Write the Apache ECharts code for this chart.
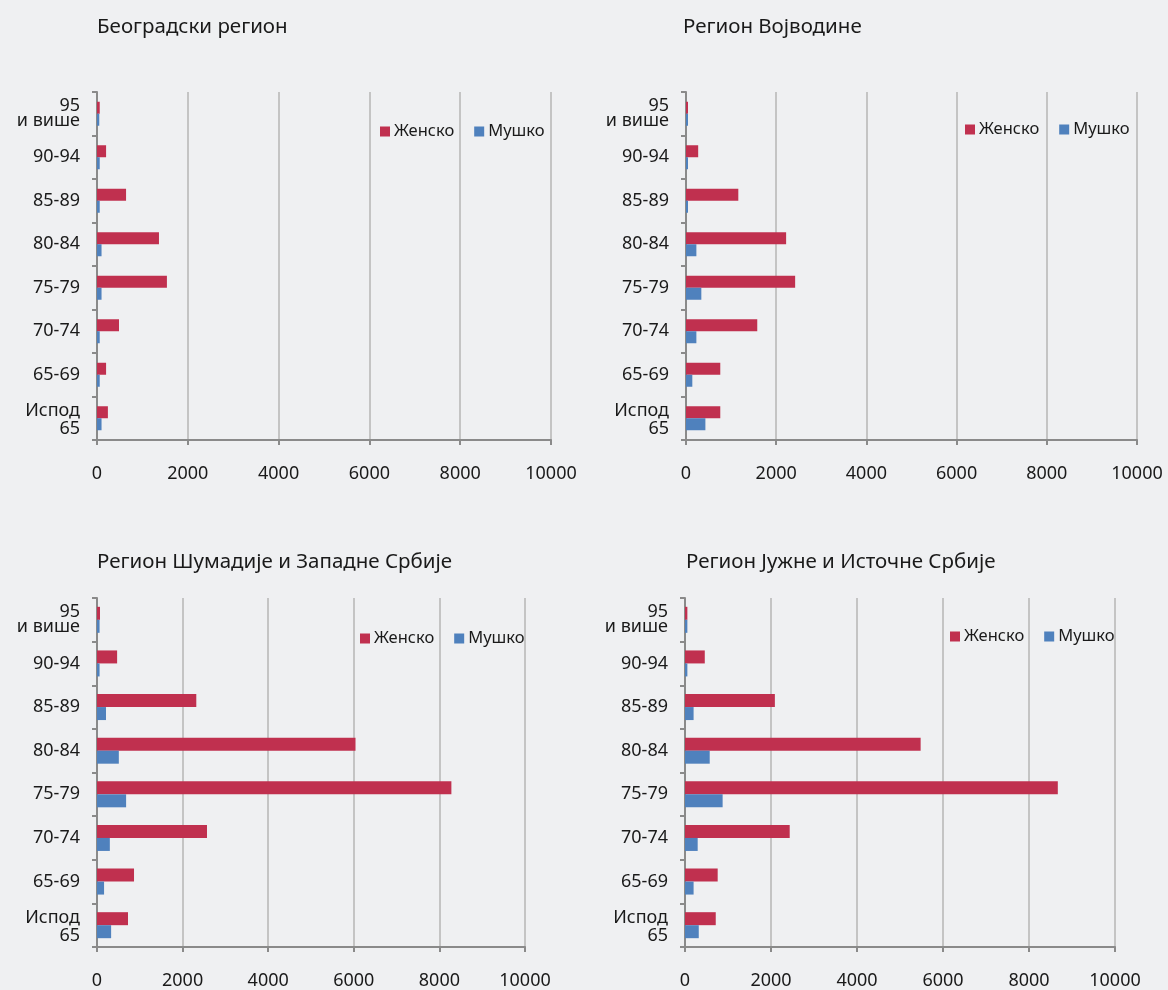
<!DOCTYPE html>
<html><head><meta charset="utf-8">
<script src="https://cdn.jsdelivr.net/npm/echarts@6/dist/echarts.min.js"></script>
<style>html,body{margin:0;padding:0;background:#EFF0F2;}#c{width:1168px;height:990px;}</style>
</head><body><div id="c"></div>
<script>
const categories = ['Испод\n65','65-69','70-74','75-79','80-84','85-89','90-94','95\nи више'];
const titles = ['Београдски регион','Регион Војводине','Регион Шумадије и Западне Србије','Регион Јужне и Источне Србије'];
const seriesNames = ['Женско','Мушко'];
const xTicks = [0,2000,4000,6000,8000,10000];

const belgradeF = [240,200,485,1540,1365,640,200,60];
const belgradeM = [100,60,60,100,100,60,60,50];
const vojvodinaF = [760,760,1580,2420,2220,1160,270,45];
const vojvodinaM = [430,140,230,340,230,45,45,45];
const sumadijaF = [725,865,2570,8280,6040,2320,470,70];
const sumadijaM = [330,165,300,680,510,210,60,60];
const juznaF = [715,760,2435,8670,5480,2090,460,55];
const juznaM = [320,200,295,875,575,200,55,55];

const female = [belgradeF, vojvodinaF, sumadijaF, juznaF];
const male = [belgradeM, vojvodinaM, sumadijaM, juznaM];

const FONT = 'Noto Sans';
const RED = '#C0304F', BLUE = '#4F81BD';
const grids = [
  {left:97, top:92, width:454, height:348},
  {left:686, top:92, width:451, height:348},
  {left:97, top:598, width:428, height:350},
  {left:685, top:598, width:430, height:350}
];
const titlePos = [{left:97, top:17},{left:683, top:17},{left:97, top:552},{left:686, top:552}];
const legendPos = [{left:380, top:123},{left:965, top:121},{left:360, top:630},{left:950, top:628}];
const barW = [12,12,13,13];

function yLabel(v){
  if (v.indexOf('95\n') === 0) return v.split('\n').map(s=>'{t|'+s+'}').join('\n');
  if (v.indexOf('\n') >= 0) return v.split('\n').map(s=>'{b|'+s+'}').join('\n');
  return v;
}

const option = {
  backgroundColor:'#EFF0F2',
  animation:false,
  title: titles.map((t,i)=>({text:t, left:titlePos[i].left, top:titlePos[i].top, padding:0,
    textStyle:{fontFamily:FONT, fontSize:20.5, fontWeight:'normal', color:'#1a1a1a'}})),
  legend: legendPos.map((p,i)=>({left:p.left, top:p.top, padding:0, data:seriesNames, itemWidth:10, itemHeight:10, itemGap:20,
    icon:'rect', textStyle:{fontFamily:FONT, fontSize:16.5, color:'#1a1a1a', padding:[0,0,0,-1]}})),
  grid: grids.map(g=>Object.assign({containLabel:false}, g)),
  xAxis: grids.map((g,i)=>({type:'value', gridIndex:i, min:0, max:10000, interval:2000,
    axisLine:{show:true, lineStyle:{color:'#8A8A8A', width:2}},
    axisTick:{show:true, length:5, lineStyle:{color:'#8A8A8A', width:2}},
    splitLine:{show:true, lineStyle:{color:'#C4C4C4', width:2}},
    axisLabel:{fontFamily:FONT, fontSize:18, color:'#1a1a1a', margin:25,
      formatter:v=>xTicks.includes(v)?String(v):''}})),
  yAxis: grids.map((g,i)=>({type:'category', gridIndex:i, data:categories, boundaryGap:true,
    axisLine:{show:true, lineStyle:{color:'#8A8A8A', width:2}},
    axisTick:{show:true, length:5, alignWithLabel:false, lineStyle:{color:'#8A8A8A', width:2}},
    axisLabel:{fontFamily:FONT, fontSize:18, color:'#1a1a1a', margin:17, align:'right', formatter:yLabel,
      rich:{
        t:{fontFamily:FONT, fontSize:18, color:'#1a1a1a', lineHeight:15, align:'right'},
        b:{fontFamily:FONT, fontSize:18, color:'#1a1a1a', lineHeight:18, align:'right', padding:[4,0,0,0]}
      }}})),
  series: []
};
for (let i=0;i<4;i++){
  option.series.push({name:'Женско', type:'bar', xAxisIndex:i, yAxisIndex:i, data:female[i], barWidth:barW[i], barGap:'0%', itemStyle:{color:RED}});
  option.series.push({name:'Мушко', type:'bar', xAxisIndex:i, yAxisIndex:i, data:male[i], barWidth:barW[i], barGap:'0%', itemStyle:{color:BLUE}});
}
const chart = echarts.init(document.getElementById('c'), null, {renderer:'canvas'});
chart.setOption(option);
</script></body></html>
